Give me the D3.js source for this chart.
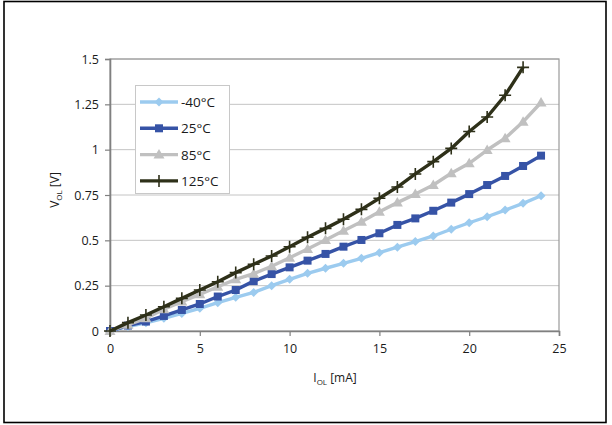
<!DOCTYPE html>
<html>
<head>
<meta charset="utf-8">
<script src="https://cdn.jsdelivr.net/npm/d3@7"></script>
<style>
  html, body { margin: 0; padding: 0; background: #fff; }
  svg { display: block; font-family: "Open Sans", "Noto Sans", sans-serif; }
</style>
</head>
<body>
<svg id="chart" width="612" height="425"></svg>
<script>
// Output low voltage vs. sink current at four temperatures
const currents = d3.range(0, 25);            // I_OL [mA]
const vMinus40 = [0, 0.025, 0.045, 0.07, 0.097, 0.125, 0.156, 0.186, 0.213, 0.25, 0.285,
                  0.318, 0.346, 0.373, 0.401, 0.432, 0.462, 0.493, 0.524, 0.561, 0.597,
                  0.63, 0.667, 0.704, 0.746];
const v25 = [0, 0.03, 0.052, 0.083, 0.116, 0.149, 0.19, 0.226, 0.275, 0.314, 0.351,
             0.388, 0.425, 0.465, 0.502, 0.539, 0.585, 0.621, 0.663, 0.708, 0.755,
             0.805, 0.855, 0.91, 0.967];
const v85 = [0, 0.035, 0.07, 0.12, 0.162, 0.202, 0.244, 0.285, 0.316, 0.357, 0.404,
             0.452, 0.502, 0.553, 0.603, 0.658, 0.708, 0.755, 0.805, 0.87, 0.925,
             0.998, 1.063, 1.154, 1.26];
const v125 = [0, 0.046, 0.088, 0.134, 0.18, 0.226, 0.272, 0.322, 0.368, 0.414, 0.465,
              0.517, 0.566, 0.616, 0.671, 0.732, 0.794, 0.866, 0.934, 1.007, 1.10,
              1.18, 1.30, 1.454];
const seriesNames = ["-40°C", "25°C", "85°C", "125°C"];
const xTicks = [0, 5, 10, 15, 20, 25];
const yTicks = [0, 0.25, 0.5, 0.75, 1, 1.25, 1.5];
const yTickLabels = ["0", "0.25", "0.5", "0.75", "1", "1.25", "1.5"];

const seriesValues = [vMinus40, v25, v85, v125];
const colors = ["#9ccbef", "#3653a6", "#c0c0c0", "#2e3019"];
const markers = ["diamond", "square", "triangle", "plus"];

const svg = d3.select("#chart");

// outer frame
svg.append("rect").attr("x", 4).attr("y", 1.5).attr("width", 602).attr("height", 421)
  .attr("fill", "none").attr("stroke", "#000").attr("stroke-width", 1.6);

const plotL = 110, plotR = 559, plotT = 59, plotB = 331;
const x = d3.scaleLinear().domain([0, 25]).range([plotL, plotR]);
const y = d3.scaleLinear().domain([0, 1.5]).range([plotB, plotT]);

// gridlines
svg.append("g").selectAll("line").data(yTicks.slice(1)).join("line")
  .attr("x1", plotL).attr("x2", plotR)
  .attr("y1", d => y(d)).attr("y2", d => y(d))
  .attr("stroke", "#c4c4c4").attr("stroke-width", 1);

// plot frame
svg.append("rect").attr("x", plotL).attr("y", plotT).attr("width", plotR - plotL).attr("height", plotB - plotT)
  .attr("fill", "none").attr("stroke", "#9a9a9a").attr("stroke-width", 1.2);

// axes
const yAxis = d3.axisLeft(y).tickValues(yTicks).tickFormat((d, i) => yTickLabels[i])
  .tickSize(5).tickPadding(6);
const gy = svg.append("g").attr("transform", `translate(${plotL},0)`).call(yAxis);
const xAxis = d3.axisBottom(x).tickValues(xTicks).tickFormat(d3.format("d"))
  .tickSize(5).tickPadding(8);
const gx = svg.append("g").attr("transform", `translate(0,${plotB})`).call(xAxis);
[gx, gy].forEach(g => {
  g.select(".domain").attr("stroke", "#808080").attr("stroke-width", 1.6);
  g.selectAll(".tick line").attr("stroke", "#808080").attr("stroke-width", 1.2);
  g.selectAll(".tick text").attr("fill", "#1a1a1a").style("font-size", "12.5px")
    .style("font-family", "\"Open Sans\", \"Noto Sans\", sans-serif");
});

// axis titles
const yt = svg.append("text").attr("transform", "translate(59,190) rotate(-90)")
  .attr("text-anchor", "middle").attr("fill", "#1a1a1a").style("font-size", "12px");
yt.append("tspan").text("V");
yt.append("tspan").attr("dy", 3).style("font-size", "8px").text("OL");
yt.append("tspan").attr("dy", -3).text(" [V]");

const xt = svg.append("text").attr("x", 335).attr("y", 382)
  .attr("text-anchor", "middle").attr("fill", "#1a1a1a").style("font-size", "12px");
xt.append("tspan").text("I");
xt.append("tspan").attr("dy", 3).style("font-size", "8px").text("OL");
xt.append("tspan").attr("dy", -3).text(" [mA]");

// marker drawing
function drawMarker(g, type, color) {
  if (type === "diamond") {
    g.append("path").attr("d", "M0,-4.5L4.5,0L0,4.5L-4.5,0Z").attr("fill", color);
  } else if (type === "square") {
    g.append("rect").attr("x", -4).attr("y", -4).attr("width", 8).attr("height", 8).attr("fill", color);
  } else if (type === "triangle") {
    g.append("path").attr("d", "M0,-5.5L5.5,4L-5.5,4Z").attr("fill", color);
  } else {
    g.append("path").attr("d", "M-6,0H6M0,-6V6").attr("stroke", color).attr("stroke-width", 1.6);
  }
}

const line = d3.line().x(d => x(d[0])).y(d => y(d[1]));

seriesValues.forEach((vals, si) => {
  const pts = vals.map((v, i) => [currents[i], v]);
  const g = svg.append("g");
  g.append("path").datum(pts).attr("d", line).attr("fill", "none")
    .attr("stroke", colors[si]).attr("stroke-width", 3.4).attr("stroke-linejoin", "round");
  pts.forEach(p => {
    const m = g.append("g").attr("transform", `translate(${x(p[0])},${y(p[1])})`);
    drawMarker(m, markers[si], colors[si]);
  });
});

// legend
const lg = svg.append("g");
lg.append("rect").attr("x", 135.5).attr("y", 85.5).attr("width", 94).attr("height", 108)
  .attr("fill", "#fff").attr("stroke", "#c8c8c8").attr("stroke-width", 1);
seriesNames.forEach((name, i) => {
  const cy = 102 + i * 26.3;
  lg.append("line").attr("x1", 140).attr("x2", 178).attr("y1", cy).attr("y2", cy)
    .attr("stroke", colors[i]).attr("stroke-width", 3.4);
  const m = lg.append("g").attr("transform", `translate(159,${cy})`);
  drawMarker(m, markers[i], colors[i]);
  lg.append("text").attr("x", 181).attr("y", cy + 5).attr("fill", "#1a1a1a")
    .style("font-size", "13.5px").text(name);
});
</script>
</body>
</html>
